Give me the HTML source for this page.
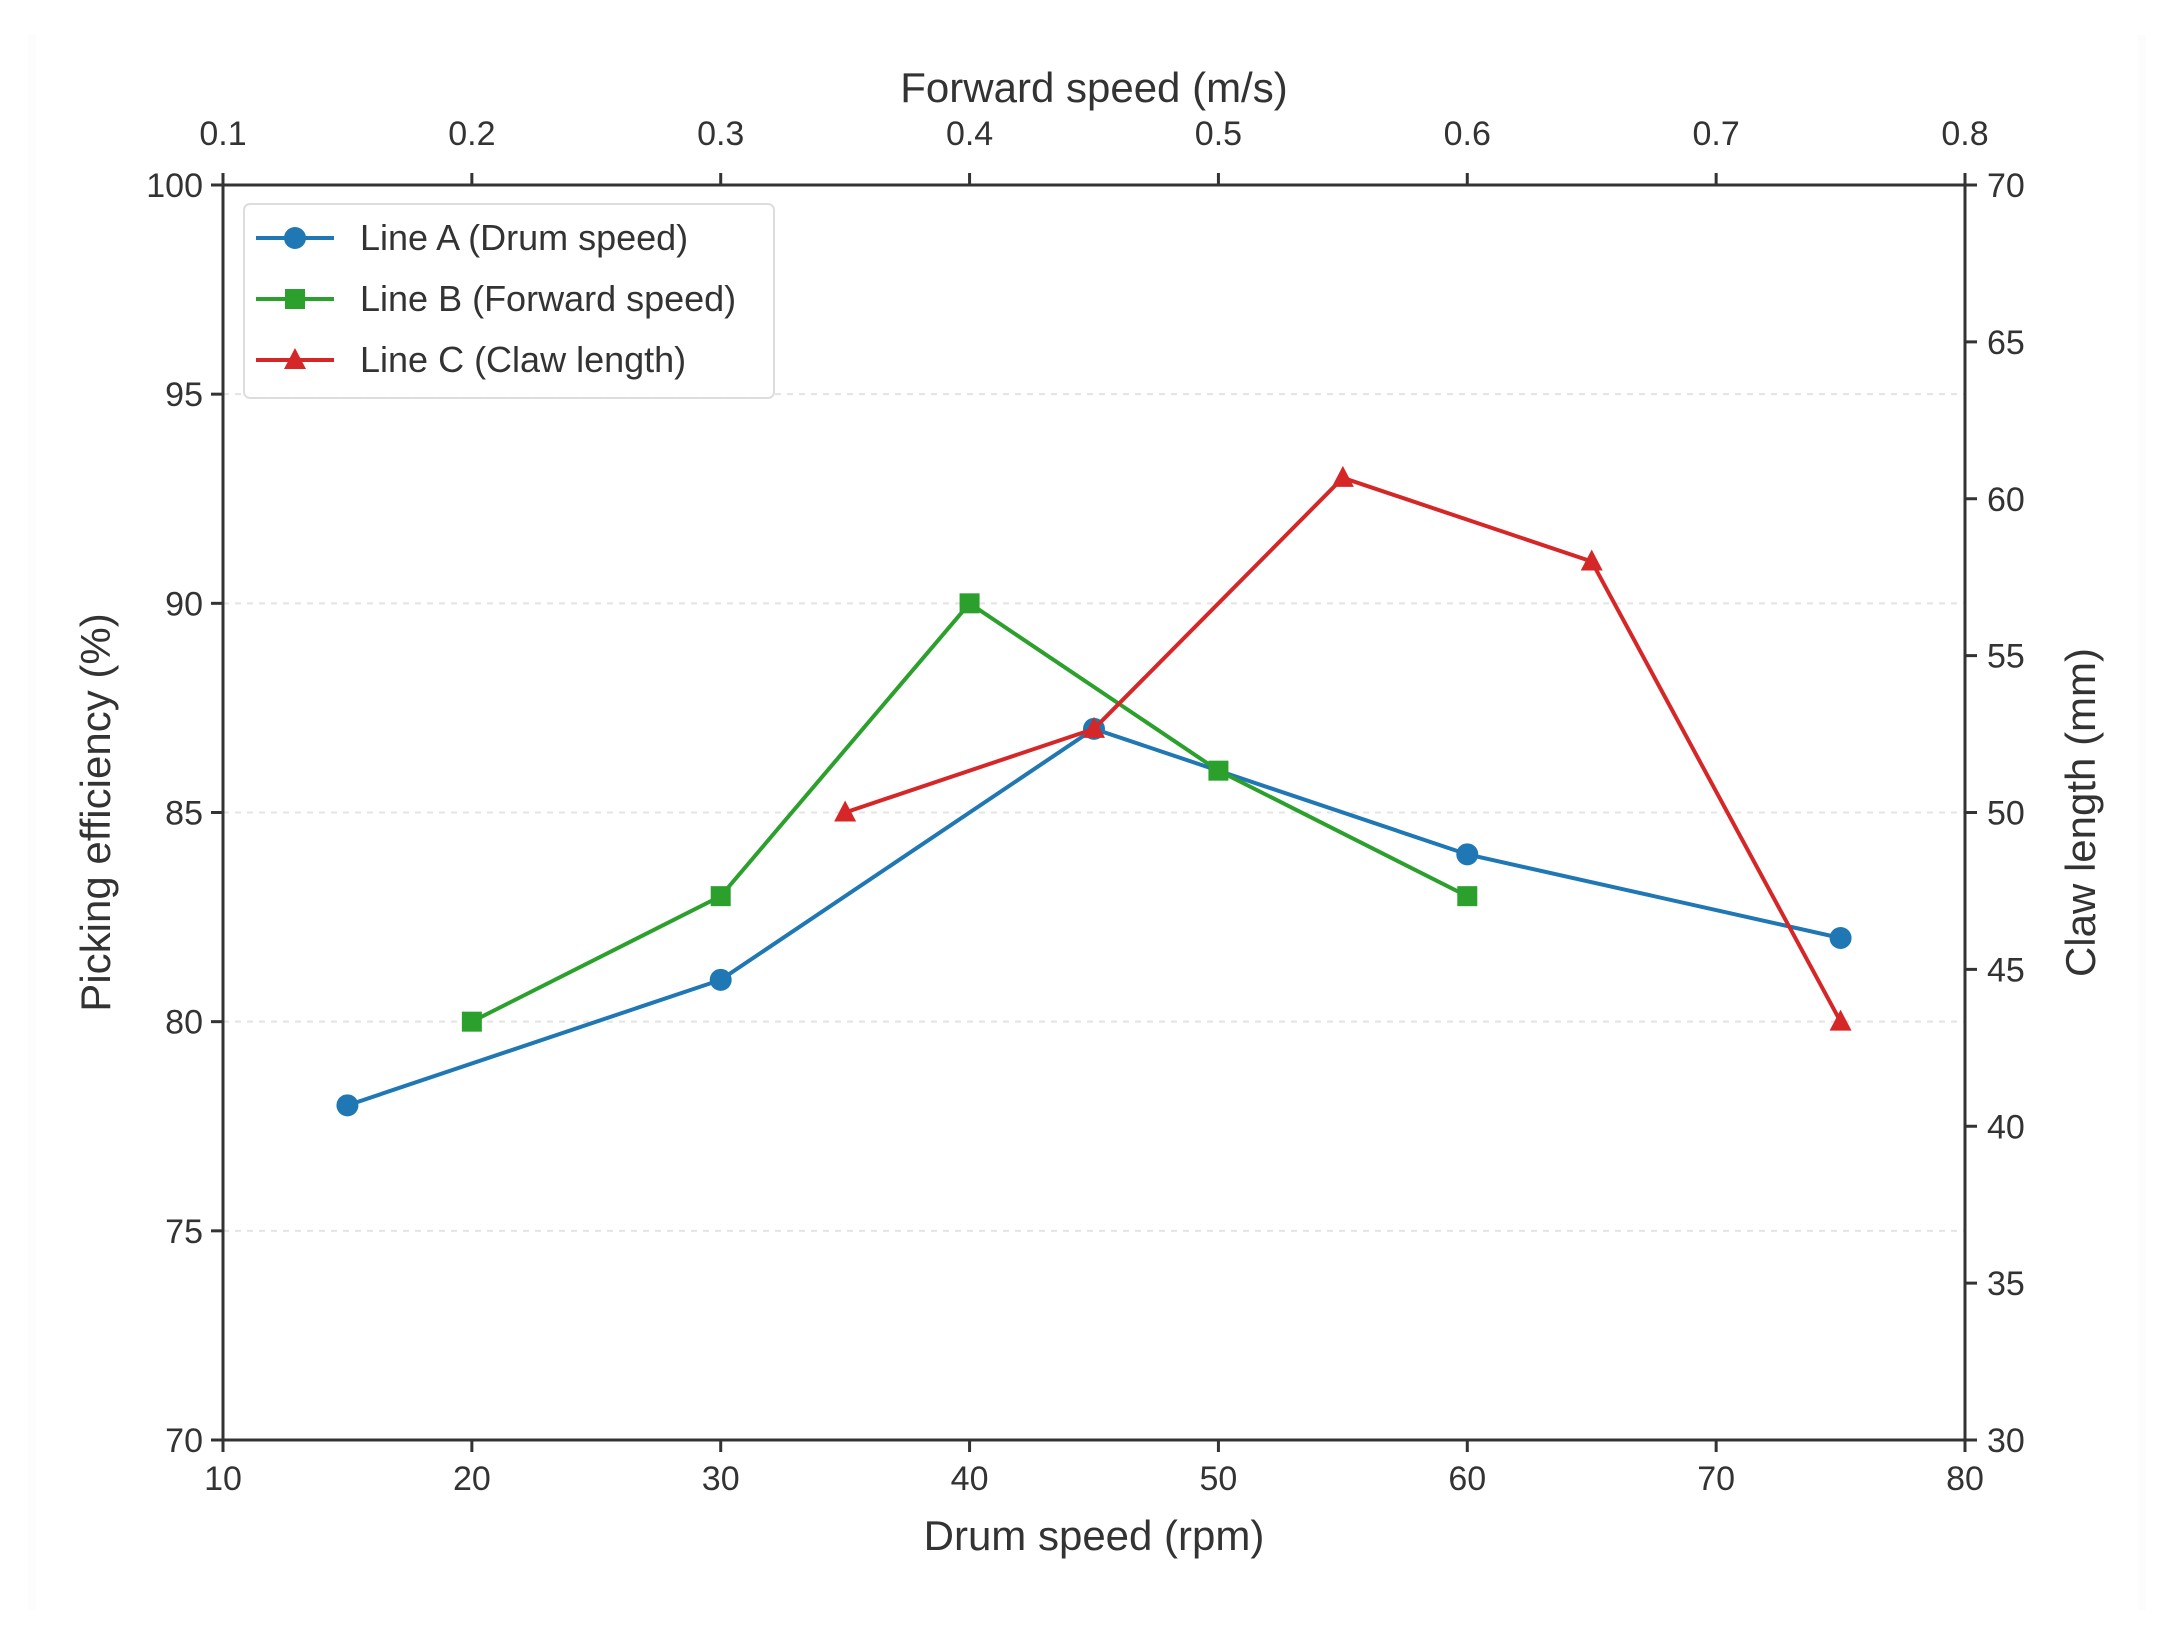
<!DOCTYPE html>
<html><head><meta charset="utf-8"><style>
html,body{margin:0;padding:0;background:#fff;}
svg{display:block;font-family:"Liberation Sans",sans-serif;}
</style></head><body>
<svg id="chart" width="2184" height="1633" xmlns="http://www.w3.org/2000/svg">
<rect x="0" y="0" width="2184" height="1633" fill="#fff"/>
<rect x="28" y="35" width="2118" height="1575" fill="#fcfcfc"/>
<rect x="36" y="35" width="2102" height="1575" fill="#fff"/>
<g id="grid"></g><g id="axes"></g><g id="series"></g><g id="legend"></g>
</svg>
<script>
const drumTicks=[10,20,30,40,50,60,70,80];
const fwdTicks=[0.1,0.2,0.3,0.4,0.5,0.6,0.7,0.8];
const effTicks=[70,75,80,85,90,95,100];
const clawTicks=[30,35,40,45,50,55,60,65,70];
const gridVals=[75,80,85,90,95];
const aX=[15,30,45,60,75];
const aY=[78,81,87,84,82];
const bX=[0.2,0.3,0.4,0.5,0.6];
const bY=[80,83,90,86,83];
const cX=[35,45,55,65,75];
const cY=[85,87,93,91,80];

const L=223,R=1965,T=185,B=1440;
const xs=v=>L+(v-10)/70*(R-L);
const xf=v=>L+(v-0.1)/0.7*(R-L);
const ys=v=>B-(v-70)/30*(B-T);
const yc=v=>B-(v-30)/40*(B-T);
const NS='http://www.w3.org/2000/svg';
function mk(tag,attrs,parent,text){const e=document.createElementNS(NS,tag);for(const k in attrs)e.setAttribute(k,attrs[k]);if(text!==undefined)e.textContent=text;parent.appendChild(e);return e;}
const G=document.getElementById('grid'),A=document.getElementById('axes'),S=document.getElementById('series'),LG=document.getElementById('legend');
gridVals.forEach(v=>{const l=mk('line',{x1:L,x2:R,y1:ys(v),y2:ys(v),stroke:'#e4e4e4','stroke-width':2,'stroke-dasharray':'6,6'},G);

});
const fr=mk('rect',{x:L,y:T,width:R-L,height:B-T,fill:'none',stroke:'#333','stroke-width':3},A);


const ts={fill:'#333','font-size':34};
drumTicks.forEach(v=>{const x=xs(v);mk('line',{x1:x,x2:x,y1:B,y2:B+12,stroke:'#333','stroke-width':3},A);
const t=mk('text',Object.assign({x:x,y:B+50,'text-anchor':'middle'},ts),A,String(v));

});
fwdTicks.forEach(v=>{const x=xf(v);mk('line',{x1:x,x2:x,y1:T,y2:T-12,stroke:'#333','stroke-width':3},A);
const t=mk('text',Object.assign({x:x,y:T-40,'text-anchor':'middle'},ts),A,v.toFixed(1));

});
effTicks.forEach(v=>{const y=ys(v);mk('line',{x1:L,x2:L-12,y1:y,y2:y,stroke:'#333','stroke-width':3},A);
const t=mk('text',Object.assign({x:L-20,y:y+12,'text-anchor':'end'},ts),A,String(v));

});
clawTicks.forEach(v=>{const y=yc(v);mk('line',{x1:R,x2:R+12,y1:y,y2:y,stroke:'#333','stroke-width':3},A);
const t=mk('text',Object.assign({x:R+22,y:y+12,'text-anchor':'start'},ts),A,String(v));

});
const tl=(txt,x,y,rot,name)=>{const t=mk('text',{x:x,y:y,'text-anchor':'middle',fill:'#333','font-size':42,transform:rot?`rotate(${rot} ${x} ${y})`:''},A,txt);

};
tl('Drum speed (rpm)',(L+R)/2,1550,0,'x-axis-title');
tl('Forward speed (m/s)',(L+R)/2,102,0,'top-x-axis-title');
tl('Picking efficiency (%)',110,(T+B)/2,-90,'y-axis-title');
tl('Claw length (mm)',2095,(T+B)/2,-90,'right-y-axis-title');

function drawLine(px,py,color,shape,name){
  const pts=px.map((x,i)=>x+','+py[i]).join(' ');
  const pl=mk('polyline',{points:pts,fill:'none',stroke:color,'stroke-width':4},S);
  
  
  px.forEach((x,i)=>{drawMarker(x,py[i],color,shape,S,name+'-point');});
}
function drawMarker(x,y,color,shape,parent,name){
  let m;
  if(shape==='o')m=mk('circle',{cx:x,cy:y,r:11,fill:color},parent);
  else if(shape==='s')m=mk('rect',{x:x-10,y:y-10,width:20,height:20,fill:color},parent);
  else m=mk('polygon',{points:`${x},${y-12} ${x-11},${y+9} ${x+11},${y+9}`,fill:color},parent);
  
  
}
const BLUE='#1f77b4',GREEN='#2ca02c',RED='#d62728';
drawLine(aX.map(xs),aY.map(ys),BLUE,'o','line-a');
drawLine(bX.map(xf),bY.map(ys),GREEN,'s','line-b');
drawLine(cX.map(xs),cY.map(ys),RED,'^','line-c');

const lb=mk('rect',{x:244,y:204,width:530,height:194,rx:6,fill:'#fff','fill-opacity':0.9,stroke:'#ddd','stroke-width':2},LG);


const entries=[['Line A (Drum speed)',BLUE,'o'],['Line B (Forward speed)',GREEN,'s'],['Line C (Claw length)',RED,'^']];
entries.forEach((e,i)=>{const y=238+i*61;
  const ln=mk('line',{x1:256,x2:334,y1:y,y2:y,stroke:e[1],'stroke-width':4},LG);
  
  
  drawMarker(295,y,e[1],e[2],LG,'legend-marker');
  const t=mk('text',{x:360,y:y+12,fill:'#333','font-size':36},LG,e[0]);
  
  
});
</script>
</body></html>
